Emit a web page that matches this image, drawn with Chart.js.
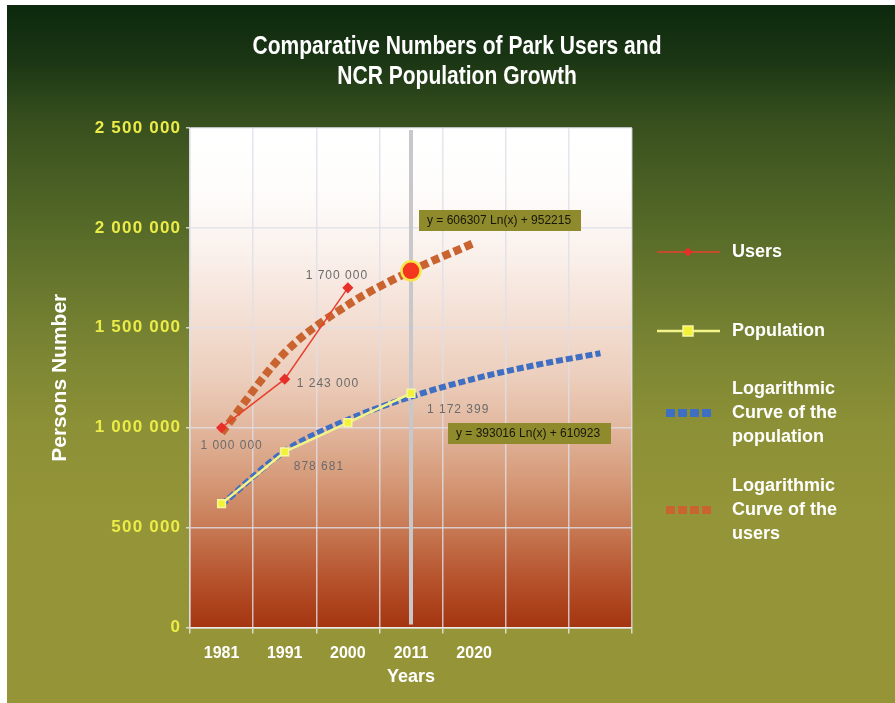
<!DOCTYPE html>
<html>
<head>
<meta charset="utf-8">
<title>Park users and NCR population</title>
<script src="https://cdn.jsdelivr.net/npm/chart.js@4.4.1/dist/chart.umd.min.js"></script>
<style>
  html, body { margin: 0; padding: 0; background: #ffffff; }
  #wrap { position: absolute; left: 7px; top: 5px; width: 888px; height: 698px; }
</style>
</head>
<body>
<div id="wrap"><canvas id="parkChart" width="888" height="698"></canvas></div>
<script>
// 1. DATOS
const years = ['1981', '1991', '2000', '2011', '2020', '', ''];
const users = [1000000, 1243000, 1700000, null, null, null, null];
const population = [620000, 878681, 1025000, 1172399, null, null, null];
const usersTrend = [975000, 1375000, 1615000, 1785000, 1925000, null, null];
const populationTrend = [615000, 882000, 1040000, 1155000, 1245000, 1315000, 1373000];
const users2011 = [null, null, null, 1785000, null, null, null];
const yMin = 0;
const yMax = 2500000;
const yStep = 500000;
const titleLines = ['Comparative Numbers of Park Users and', 'NCR Population Growth'];
const usersEquation = 'y = 606307 Ln(x) + 952215';
const populationEquation = 'y = 393016 Ln(x) + 610923';

const SANS = "'Liberation Sans', Arial, sans-serif";
const gridColor = 'rgba(222, 222, 232, 0.8)';

Chart.defaults.font.family = SANS;

function spaced(n) {
    return String(n).replace(/\B(?=(\d{3})+(?!\d))/g, ' ');
}

// 2. PLUGINS (fondos, titulo, etiquetas, leyenda)
const backgrounds = {
    id: 'backgrounds',
    beforeDraw(chart) {
        const { ctx, width, height, chartArea: a } = chart;
        ctx.save();
        let g = ctx.createLinearGradient(0, 0, 0, height);
        g.addColorStop(0, '#0c290e');
        g.addColorStop(0.08, '#1b3614');
        g.addColorStop(0.165, '#374f1e');
        g.addColorStop(0.32, '#566a28');
        g.addColorStop(0.47, '#768232');
        g.addColorStop(0.6, '#8c9036');
        g.addColorStop(0.72, '#949438');
        g.addColorStop(1, '#959538');
        ctx.fillStyle = g;
        ctx.fillRect(0, 0, width, height);

        g = ctx.createLinearGradient(0, a.top, 0, a.bottom);
        g.addColorStop(0, '#ffffff');
        g.addColorStop(0.12, '#fefdfc');
        g.addColorStop(0.25, '#faf1ec');
        g.addColorStop(0.35, '#f5e3d9');
        g.addColorStop(0.5, '#ecceBc');
        g.addColorStop(0.6, '#e2b79e');
        g.addColorStop(0.7, '#d69b7a');
        g.addColorStop(0.8, '#c77a54');
        g.addColorStop(0.9, '#b6542e');
        g.addColorStop(1, '#a43510');
        ctx.fillStyle = g;
        ctx.fillRect(a.left, a.top, a.width, a.height);

        // titulo (letra estrecha, comprimida a lo ancho)
        ctx.font = 'bold 26px ' + SANS;
        ctx.fillStyle = '#ffffff';
        ctx.textAlign = 'center';
        ctx.textBaseline = 'middle';
        const squeeze = 409 / ctx.measureText(titleLines[0]).width;
        titleLines.forEach((t, k) => {
            ctx.save();
            ctx.translate(450, 42 + k * 30);
            ctx.scale(squeeze, 1);
            ctx.fillText(t, 0, 0);
            ctx.restore();
        });
        ctx.restore();
    },
    beforeDatasetsDraw(chart) {
        // barra gris vertical en 2011
        const { ctx, chartArea: a } = chart;
        const x = chart.scales.x.getPixelForValue(3);
        ctx.save();
        ctx.strokeStyle = '#c8c8cc';
        ctx.lineWidth = 4;
        ctx.beginPath();
        ctx.moveTo(x, a.top + 2);
        ctx.lineTo(x, a.bottom - 3);
        ctx.stroke();
        ctx.restore();
    }
};

// etiquetas de valores: [dataset, indice, alineacion, dx, dy]
const valueLabels = [
    [1, 0, 'center', 10, 18],
    [1, 1, 'left', 12, 5],
    [1, 2, 'center', -11, -12],
    [2, 1, 'left', 9, 15],
    [2, 3, 'left', 16, 16]
];

const annotations = {
    id: 'annotations',
    afterDatasetsDraw(chart) {
        const { ctx, chartArea: a } = chart;
        ctx.save();
        ctx.font = '12px ' + SANS;
        ctx.letterSpacing = '1px';
        ctx.fillStyle = '#6b6b6b';
        ctx.textBaseline = 'middle';
        valueLabels.forEach(([ds, i, align, dx, dy]) => {
            const pt = chart.getDatasetMeta(ds).data[i];
            const v = chart.data.datasets[ds].data[i];
            ctx.textAlign = align;
            ctx.fillText(spaced(v), pt.x + dx, pt.y + dy);
        });

        // cajas de ecuaciones
        ctx.letterSpacing = '0px';
        ctx.textAlign = 'left';
        const boxes = [
            [usersEquation, a.left + 229, a.top + 82, 162],
            [populationEquation, a.left + 258, a.top + 295, 163]
        ];
        boxes.forEach(([txt, x, y, w]) => {
            ctx.fillStyle = '#8f8b2d';
            ctx.fillRect(x, y, w, 21);
            ctx.fillStyle = '#17170a';
            ctx.fillText(txt, x + 8, y + 11);
        });
        ctx.restore();
    },
    afterDraw(chart) {
        const { ctx, chartArea: a } = chart;
        const y = chart.scales.y;
        ctx.save();

        // etiquetas eje Y
        ctx.font = 'bold 17px ' + SANS;
        ctx.letterSpacing = '1.2px';
        ctx.fillStyle = '#ecec48';
        ctx.textAlign = 'right';
        ctx.textBaseline = 'middle';
        y.ticks.forEach(t => {
            ctx.fillText(spaced(t.value), a.left - 8.8, y.getPixelForValue(t.value));
        });

        // leyenda
        ctx.letterSpacing = '0px';
        const lx = a.right;
        ctx.font = 'bold 18px ' + SANS;
        ctx.textAlign = 'left';

        // Users
        ctx.strokeStyle = '#e8402c';
        ctx.lineWidth = 1.5;
        ctx.beginPath();
        ctx.moveTo(lx + 25, 247); ctx.lineTo(lx + 88, 247);
        ctx.stroke();
        ctx.fillStyle = '#e8302a';
        ctx.beginPath();
        ctx.moveTo(lx + 56, 242.5); ctx.lineTo(lx + 60.5, 247);
        ctx.lineTo(lx + 56, 251.5); ctx.lineTo(lx + 51.5, 247);
        ctx.closePath(); ctx.fill();
        ctx.fillStyle = '#ffffff';
        ctx.fillText('Users', lx + 100, 247);

        // Population
        ctx.strokeStyle = '#f3f38a';
        ctx.lineWidth = 2.5;
        ctx.beginPath();
        ctx.moveTo(lx + 25, 326); ctx.lineTo(lx + 88, 326);
        ctx.stroke();
        ctx.fillStyle = '#f2f236';
        ctx.fillRect(lx + 51, 321, 10, 10);
        ctx.strokeStyle = '#f6f6a0';
        ctx.lineWidth = 1.5;
        ctx.strokeRect(lx + 51, 321, 10, 10);
        ctx.fillStyle = '#ffffff';
        ctx.fillText('Population', lx + 100, 326);

        // curvas logaritmicas
        const dotted = [
            ['#3f6fc2', 408, ['Logarithmic', 'Curve of the', 'population']],
            ['#c9632f', 505, ['Logarithmic', 'Curve of the', 'users']]
        ];
        dotted.forEach(([col, cy, lines]) => {
            ctx.strokeStyle = col;
            ctx.lineWidth = 8;
            ctx.setLineDash([9, 3]);
            ctx.beginPath();
            ctx.moveTo(lx + 34, cy); ctx.lineTo(lx + 79, cy);
            ctx.stroke();
            ctx.setLineDash([]);
            ctx.fillStyle = '#ffffff';
            lines.forEach((t, k) => ctx.fillText(t, lx + 100, cy + (k - 1) * 24));
        });
        ctx.restore();
    }
};

// 3. GRAFICO
new Chart(document.getElementById('parkChart'), {
    type: 'line',
    data: {
        labels: years,
        datasets: [
            {
                label: 'Users 2011',
                data: users2011,
                showLine: false,
                pointRadius: 9.5,
                pointBackgroundColor: '#f3361d',
                pointBorderColor: '#f6e548',
                pointBorderWidth: 2.5,
                order: 0
            },
            {
                label: 'Users',
                data: users,
                borderColor: '#e8402c',
                borderWidth: 1.5,
                pointStyle: 'rectRot',
                pointRadius: 4.5,
                pointBackgroundColor: '#e8302a',
                pointBorderColor: '#e8302a',
                order: 1
            },
            {
                label: 'Population',
                data: population,
                borderColor: '#f3f38a',
                borderWidth: 2.5,
                pointStyle: 'rect',
                pointRadius: 5.5,
                pointBackgroundColor: '#f2f236',
                pointBorderColor: '#f6f6a0',
                pointBorderWidth: 1.5,
                order: 2
            },
            {
                label: 'Logarithmic Curve of the population',
                data: populationTrend,
                borderColor: '#3f6fc2',
                borderWidth: 6,
                borderDash: [7, 3],
                pointRadius: 0,
                cubicInterpolationMode: 'monotone',
                order: 3
            },
            {
                label: 'Logarithmic Curve of the users',
                data: usersTrend,
                borderColor: '#c9632f',
                borderWidth: 8,
                borderDash: [8, 4],
                pointRadius: 0,
                cubicInterpolationMode: 'monotone',
                order: 4
            }
        ]
    },
    options: {
        responsive: false,
        animation: false,
        devicePixelRatio: 1,
        events: [],
        layout: { padding: { left: 12, right: 0, top: 123, bottom: 0 } },
        plugins: {
            legend: { display: false },
            tooltip: { enabled: false },
            title: { display: false }
        },
        scales: {
            x: {
                offset: true,
                grid: { offset: true, color: gridColor, lineWidth: 1.5, tickLength: 6, tickColor: 'rgba(235,235,235,0.8)' },
                border: { color: 'rgba(240,236,236,0.9)', width: 1.5 },
                ticks: {
                    color: '#ffffff',
                    font: { size: 16, weight: 'bold' },
                    padding: 10,
                    autoSkip: false,
                    maxRotation: 0
                },
                title: {
                    display: true,
                    text: 'Years',
                    color: '#ffffff',
                    font: { size: 18, weight: 'bold' },
                    padding: { top: 0, bottom: 15 }
                },
                afterFit(s) { s.height = 75.5; }
            },
            y: {
                min: yMin,
                max: yMax,
                ticks: { stepSize: yStep, display: false },
                grid: { color: gridColor, lineWidth: 1.5, tickLength: 4, tickColor: 'rgba(235,235,235,0.8)' },
                border: { color: gridColor, width: 1.5 },
                title: {
                    display: true,
                    text: 'Persons Number',
                    color: '#ffffff',
                    font: { size: 21, weight: 'bold' },
                    padding: { top: 28.4, bottom: 0 }
                },
                afterFit(s) { s.width = 171; }
            },
            yr: {
                position: 'right',
                grid: { display: false },
                border: { display: false },
                ticks: { display: false },
                afterFit(s) { s.width = 263; }
            }
        }
    },
    plugins: [backgrounds, annotations]
});
</script>
</body>
</html>
